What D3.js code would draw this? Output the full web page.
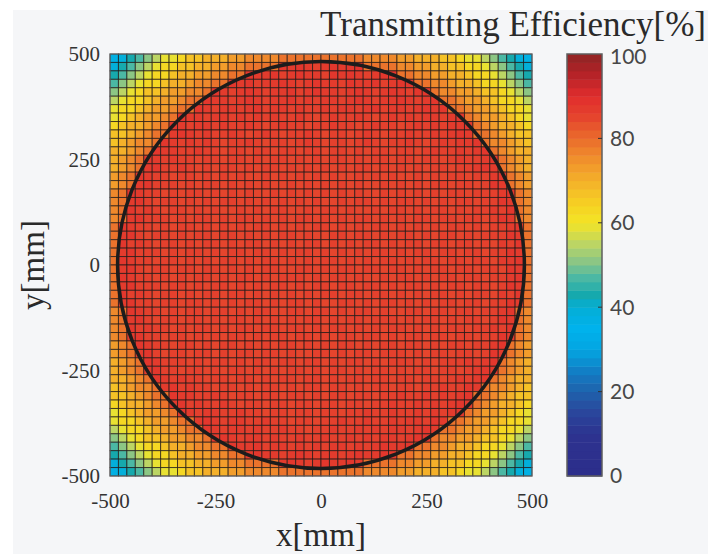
<!DOCTYPE html>
<html>
<head>
<meta charset="utf-8">
<script src="https://cdn.jsdelivr.net/npm/d3@7"></script>
<style>
  body { margin: 0; background: #fff; }
  svg { display: block; }
  .axis text { font-family: "Liberation Serif", "Times New Roman", serif; font-size: 21px; fill: #333; }
  .cbar-label { font-family: Lato, "Open Sans", sans-serif; font-size: 21px; fill: #474747; }
  .axis-title { font-family: "Liberation Serif", "Times New Roman", serif; fill: #2a2a2a; }
</style>
</head>
<body>
<svg id="chart" width="726" height="554"></svg>
<script>
// tick values
const xTicks = [-500, -250, 0, 250, 500];
const yTicks = [-500, -250, 0, 250, 500];
const cbarTicks = [0, 20, 40, 60, 80, 100];

// colour map
const cmapStops  = [0, 10, 15, 20, 25, 30, 35, 40, 43, 47, 51, 55, 60, 64, 70, 75, 80, 85, 90, 95, 100];
const cmapColors = ["#2c2d8a", "#2d3390", "#2a469c", "#1f62ac", "#117fc6", "#03a6e2", "#00b2ec", "#04aed6",
                    "#16a9ad", "#4bb8a4", "#8cc684", "#bcd564", "#f3e426", "#f6d322", "#f4b02a", "#f0902c",
                    "#ea6c2c", "#e5452d", "#e12d2d", "#b62328", "#8e2424"];

// aperture circle radius [mm]
const apertureRadius = 482;

// transmitting efficiency [%], rows from y=+490 (top) to y=-490, columns x=-490..490
const efficiency = [
  [37,39,43,47,51,55,59,59,63,67,67,70,70,70,73,73,76,76,76,76,79,79,79,79,79,79,79,79,79,79,76,76,76,76,73,73,70,70,70,67,67,63,59,59,55,51,47,43,39,37],
  [39,43,47,51,55,59,63,63,67,67,70,70,73,73,76,76,79,79,79,79, 88,87,88,87,86,87,88,87,88,89, 79,79,79,79,76,76,73,73,70,70,67,67,63,63,59,55,51,47,43,39],
  [43,47,51,55,59,63,63,67,70,70,73,73,76,76,79,79, 88,87,87,88,86,87,88,87,87,86, 88,87,88,87,86,87,88,88, 79,79,76,76,73,73,70,70,67,63,63,59,55,51,47,43],
  [47,51,55,59,63,63,67,70,70,73,76,76,79,79, 88,87,88,86,87,87,88,87,86,87, 88,87,87,86,88,87,87,88,86,87, 88,88, 79,79,76,76,73,70,70,67,63,63,59,55,51,47],
  [51,55,59,63,67,67,70,73,73,76,76,79, 88,87,86,87,88,87,86,87,87,88, 86,87,88,87,87,86,87,88,87,86, 87,88,87,86,88,88, 79,76,76,73,73,70,67,67,63,59,55,51],
  [55,59,63,63,67,70,73,73,76,79,79, 88,87,87,86,87,88,87,86,87,87, 88,86,87,86,87,87,86,87,88,87, 86,87,87,88,87,86,87,88, 79,79,76,73,73,70,67,63,63,59,55],
  [59,63,63,67,70,73,73,76,79,79, 88,87,86,87,87,86,87,88,86,87, 87,86,87,86,86,87,86,87,87,86, 87,88,86,87,87,86,87,88,87,88, 79,79,76,73,73,70,67,63,63,59],
  [59,63,67,70,73,73,76,79, 88,87,87,86,87,87,86,87,86,87, 86,87,86,86,87,86,85,86,87,86, 86,87,86,85,86,87,86,87,86,87, 87,86,87,88, 79,76,73,73,70,67,63,59],
  [63,67,70,70,73,76,79, 88,87,86,87,87,86,87,86,86,87, 86,85,86,87,86,86,85,86,86,87, 86,86,85,86,87,86,86,85,86,87, 86,87,86,87,87,88, 79,76,73,70,70,67,63],
  [67,67,70,73,76,79,79, 87,88,87,86,87,86,86,87,86,85, 86,87,86,85,86,86,87,86,85,86, 86,85,86,87,86,85,86,86,87,86, 86,87,86,87,88,87, 79,79,76,73,70,67,67],
  [67,70,73,76,76,79, 88,87,86,87,86,87,86,85,86,86, 87,86,85,86,86,85,86,87,86,85, 86,86,85,86,87,86,85,86,86,87, 86,85,86,87,86,87,87,88, 79,76,76,73,70,67],
  [70,70,73,76,79, 88,87,87,86,86,87,86,86,85,86, 86,85,86,86,85,86,86,85,86,86, 85,86,86,85,86,85,86,86,85,86, 86,85,86,87,86,86,87,86,87,88, 79,76,73,70,70],
  [70,73,76,79, 88,87,86,87,86,86,85,86,86,85, 86,86,85,86,85,86,86,85,86,85, 86,85,86,86,85,86,85,86,86,85, 86,86,85,86,86,85,86,87,86,86, 87,88, 79,76,73,70],
  [70,73,76,79, 87,88,86,86,87,86,85,86,85,86, 86,85,86,85,86,86,85,86,85,86, 85,86,85,86,85,86,86,85,86,85, 86,85,86,85,86,86,85,86,86,87, 88,87, 79,76,73,70],
  [73,76,79, 88,87,86,86,85,86,86,85,86,85, 86,85,86,85,85,86,85,86,85,86, 85,86,85,86,85,85,86,85,86,85, 86,85,85,86,85,86,85,86,86,85, 86,86,87,88, 79,76,73],
  [73,76,79, 87,88,86,86,86,85,86,85,86,86, 85,86,85,86,85,86,85,85,86,85, 86,85,86,85,86,85,86,85,85,86, 85,86,85,86,85,86,86,85,86,86, 85,86,88,87, 79,76,73],
  [76,79, 88,87,86,86,85,86,85,86,86,85, 86,85,86,85,86,85,85,86,85,86, 85,86,85,86,85,86,85,86,85,85, 86,85,86,85,86,85,86,85,86,86, 85,86,86,86,87,88, 79,76],
  [76,79, 87,88,86,85,86,86,85,86,85,86, 85,86,86,85,86,85,86,85,86,85, 86,85,86,85,85,86,85,86,86,85, 86,85,86,86,85,86,85,86,85,86, 86,85,86,86,88,87, 79,76],
  [76,79, 88,86,87,86,85,86,86,85,86,85, 86,85,85,86,85,86,85,86,86,85, 85,86,85,86,86,85,86,85,85,86, 85,86,86,85,86,85,86,86,85,86, 85,86,86,87,86,88, 79,76],
  [76,79, 87,88,86,86,86,85,86,85,86,86, 85,86,85,86,86,85,86,85,86,85, 86,86,85,86,85,86,85,86,86,85, 86,85,86,85,86,86,85,86,86,85, 86,86,85,86,88,87, 79,76],
  [79, 88,87,86,86,85,86,85,86,86,85, 86,85,86,85,86,85,86,86,85,86, 85,86,85,86,86,85,86,85,86,85, 86,86,85,86,85,86,85,86,85,86, 86,85,86,85,86,86,87,88, 79],
  [79, 87,88,86,85,86,86,85,86,85,86, 86,85,86,86,85,86,85,86,85,86, 86,85,86,85,85,86,86,85,86,86, 85,86,85,86,86,85,86,85,86,86, 85,86,85,86,86,86,88,87, 79],
  [79, 88,86,87,86,85,86,86,85,86,85, 86,86,85,86,85,86,86,85,86,85, 86,85,86,86,85,86,85,86,85,86, 86,85,86,85,86,86,85,86,86,85, 86,86,85,86,85,87,86,88, 79],
  [79, 87,88,86,86,86,85,86,85,86,86, 85,86,85,86,86,85,86,86,85,86, 85,86,86,85,86,85,86,85,86,85, 86,86,85,86,85,86,86,85,86,86, 85,86,86,85,86,86,88,87, 79],
  [79, 88,87,86,86,85,86,86,85,86,85, 86,85,86,86,85,86,85,86,86,85, 86,85,86,85,86,86,85,86,85,86, 85,86,86,85,86,85,86,86,85,86, 86,85,86,86,85,87,87,88, 79],
  [79, 87,88,86,85,86,86,85,86,86,85, 86,86,85,86,85,86,85,86,86,85, 85,86,86,85,86,85,86,86,85,86, 86,85,86,86,85,86,85,86,86,85, 86,86,85,86,86,85,88,87, 79],
  [79, 88,87,86,86,85,86,85,86,85,86, 86,85,86,85,86,86,85,86,85,86, 86,86,85,86,85,86,86,85,86,85, 85,86,85,86,86,85,86,85,86,86, 85,86,86,85,86,86,87,88, 79],
  [79, 87,88,86,86,86,85,86,86,85,86, 85,86,86,85,86,85,86,85,86,86, 85,86,85,86,86,85,86,86,85,86, 86,85,86,85,86,86,85,86,85,86, 86,85,86,86,85,86,88,87, 79],
  [79, 88,86,87,86,85,86,86,85,86,85, 86,86,85,86,86,85,86,85,86,85, 86,85,86,85,86,86,85,86,86,85, 86,86,85,86,85,86,85,86,86,85, 86,85,86,86,85,87,86,88, 79],
  [79, 87,88,86,86,85,86,86,85,86,86, 85,86,85,86,85,86,86,85,86,85, 86,86,85,86,85,85,86,86,85,86, 85,86,86,85,86,85,86,85,86,86, 85,86,86,85,86,86,88,87, 79],
  [76,79, 88,87,86,86,85,86,85,86,86,85, 86,86,85,86,85,86,86,85,85,86, 86,85,86,86,85,86,85,86,86,85, 86,85,85,86,86,85,86,86,85,86, 86,85,86,86,87,88, 79,76],
  [76,79, 87,88,86,85,86,86,85,86,86,85, 86,85,86,86,85,86,85,86,85,86, 85,86,86,85,86,85,86,86,85,86, 86,86,85,86,85,86,86,85,86,85, 86,86,85,86,88,87, 79,76],
  [76,79, 88,86,87,86,86,85,86,85,86,86, 85,86,85,86,86,85,86,86,85,86, 86,85,86,85,86,86,85,86,85,86, 85,86,86,85,86,85,86,85,86,86, 85,86,86,87,86,88, 79,76],
  [76,79, 87,88,86,86,85,86,86,85,86,85, 86,85,86,86,85,86,85,86,86,85, 86,86,85,86,85,86,86,85,86,86, 85,86,85,86,86,85,86,86,85,86, 86,85,86,86,88,87, 79,76],
  [73,76,79, 88,87,86,86,85,86,86,85,86,85, 86,86,85,86,85,86,85,86,86,85, 86,85,86,85,86,86,85,86,85,86, 86,85,86,86,85,86,85,86,86,85, 86,86,87,88, 79,76,73],
  [73,76,79, 87,88,86,85,86,86,85,86,86,85, 86,85,86,86,85,86,86,85,86,85, 85,86,86,85,86,85,86,86,85,86, 86,86,85,86,85,86,86,85,86,86, 85,86,88,87, 79,76,73],
  [70,73,76,79, 88,87,86,86,86,85,86,85,86,86, 85,86,85,86,86,85,86,86,85,86, 86,85,86,85,86,86,85,86,85,86, 86,86,85,86,85,86,86,86,87,86, 87,88, 79,76,73,70],
  [70,73,76,79, 87,88,86,86,85,86,86,85,86,85, 86,86,85,86,85,86,85,86,86,85, 86,85,86,86,85,86,85,86,86,85, 86,85,86,86,85,86,86,85,86,87, 88,87, 79,76,73,70],
  [70,70,73,76,79, 88,87,86,87,86,86,85,86,86,85, 86,86,85,86,85,86,86,85,86,86, 85,86,85,86,86,85,86,86,85,86, 86,85,86,86,85,86,87,86,87,88, 79,76,73,70,70],
  [67,70,73,76,76,79, 87,88,86,87,86,86,85,86,86,85, 86,85,86,86,85,86,85,86,86,85, 86,86,85,86,85,86,86,85,86,86, 85,86,86,87,86,86,88,87, 79,76,76,73,70,67],
  [67,67,70,73,76,79,79, 88,87,87,86,86,87,86,85,86,86, 85,86,86,85,86,86,85,86,85,86, 86,85,86,86,85,86,86,87,86,86, 87,86,87,86,87,88, 79,79,76,73,70,67,67],
  [63,67,70,70,73,76,79, 87,88,86,87,86,86,87,86,85,86, 86,85,86,86,85,86,86,85,86,86, 85,86,86,85,86,86,87,86,86,87, 86,87,86,87,88,87, 79,76,73,70,70,67,63],
  [59,63,67,70,73,73,76,79, 88,87,86,87,87,86,86,87,86,86, 85,86,86,85,86,86,85,86,86,85, 86,86,87,86,86,87,86,86,87,86, 87,86,87,88, 79,76,73,73,70,67,63,59],
  [59,63,63,67,70,73,73,76,79,79, 87,88,87,86,87,87,86,86,87,86, 86,85,86,86,85,86,86,87,86,86, 87,86,86,87,86,87,87,86,88,87, 79,79,76,73,73,70,67,63,63,59],
  [55,59,63,63,67,70,73,73,76,79,79, 88,87,86,87,87,86,87,86,86,87, 86,86,85,86,86,87,86,86,87,86, 87,86,87,87,86,87,88,87, 79,79,76,73,73,70,67,63,63,59,55],
  [51,55,59,63,67,67,70,73,73,76,76,79, 87,88,87,86,87,87,86,87,86,86, 87,86,86,87,86,86,87,86,87,86, 87,87,86,87,88,88, 79,76,76,73,73,70,67,67,63,59,55,51],
  [47,51,55,59,63,63,67,70,70,73,76,76,79,79, 88,87,87,88,86,87,87,86,87,86, 87,86,87,87,86,87,86,87,88,87, 87,88, 79,79,76,76,73,70,70,67,63,63,59,55,51,47],
  [43,47,51,55,59,63,63,67,70,70,73,73,76,76,79,79, 87,88,87,87,86,87,88,87,86,87, 87,86,87,88,87,87,88,87, 79,79,76,76,73,73,70,70,67,63,63,59,55,51,47,43],
  [39,43,47,51,55,59,63,63,67,67,70,70,73,73,76,76,79,79,79,79, 87,88,87,86,87,88,87,87,88,87, 79,79,79,79,76,76,73,73,70,70,67,67,63,63,59,55,51,47,43,39],
  [37,39,43,47,51,55,59,59,63,67,67,70,70,70,73,73,76,76,76,76,79,79,79,79,79,79,79,79,79,79,76,76,76,76,73,73,70,70,70,67,67,63,59,59,55,51,47,43,39,37]
];

const svg = d3.select("#chart");

// figure background
svg.append("rect")
  .attr("x", 13).attr("y", 10)
  .attr("width", 695).attr("height", 544)
  .attr("fill", "#f5f6f8");

const plot = {left: 110, right: 532, top: 54, bottom: 476};

const xScale = d3.scaleLinear().domain([-500, 500]).range([plot.left, plot.right]);
const yScale = d3.scaleLinear().domain([-500, 500]).range([plot.bottom, plot.top]);

const nRows = efficiency.length;
const nCols = efficiency[0].length;
const colBand = d3.scaleBand().domain(d3.range(nCols)).range([plot.left, plot.right]);
const rowBand = d3.scaleBand().domain(d3.range(nRows)).range([plot.top, plot.bottom]);

const color = d3.scaleLinear()
  .domain(cmapStops)
  .range(cmapColors)
  .interpolate(d3.interpolateRgb)
  .clamp(true);

// heat map cells
const cells = efficiency.flatMap((row, r) => row.map((v, c) => ({r: r, c: c, v: v})));

svg.append("g")
  .selectAll("rect")
  .data(cells)
  .join("rect")
    .attr("x", d => colBand(d.c))
    .attr("y", d => rowBand(d.r))
    .attr("width", colBand.bandwidth())
    .attr("height", rowBand.bandwidth())
    .attr("fill", d => color(d.v))
    .attr("stroke", "#1e1816")
    .attr("stroke-opacity", 0.72)
    .attr("stroke-width", 1);

// aperture circle
svg.append("circle")
  .attr("cx", xScale(0))
  .attr("cy", yScale(0))
  .attr("r", xScale(apertureRadius) - xScale(0))
  .attr("fill", "none")
  .attr("stroke", "#1c1c1c")
  .attr("stroke-width", 3.5);

// frame
svg.append("rect")
  .attr("x", plot.left).attr("y", plot.top)
  .attr("width", plot.right - plot.left)
  .attr("height", plot.bottom - plot.top)
  .attr("fill", "none")
  .attr("stroke", "#666")
  .attr("stroke-width", 1);

// axes
const xAxis = d3.axisBottom(xScale)
  .tickValues(xTicks)
  .tickSize(0)
  .tickPadding(17)
  .tickFormat(d => String(d));
const yAxis = d3.axisLeft(yScale)
  .tickValues(yTicks)
  .tickSize(0)
  .tickPadding(10)
  .tickFormat(d => String(d));

const gX = svg.append("g")
  .attr("class", "x axis")
  .attr("transform", "translate(0," + plot.bottom + ")")
  .call(xAxis);
const gY = svg.append("g")
  .attr("class", "y axis")
  .attr("transform", "translate(" + plot.left + ",0)")
  .call(yAxis);
gX.selectAll(".domain").remove();
gY.selectAll(".domain").remove();
svg.selectAll(".axis text").attr("font-family", null).attr("font-size", null);

svg.append("text")
  .attr("class", "axis-title")
  .attr("x", xScale(0))
  .attr("y", 546)
  .attr("text-anchor", "middle")
  .style("font-size", "33px")
  .text("x[mm]");

svg.append("text")
  .attr("class", "axis-title")
  .attr("transform", "translate(44," + yScale(0) + ") rotate(-90)")
  .attr("text-anchor", "middle")
  .style("font-size", "33px")
  .text("y[mm]");

// colour bar
const cbar = {x: 567, width: 35};
const cScale = d3.scaleLinear().domain([0, 100]).range([plot.bottom, plot.top]);
const nBands = 50;
const bandStep = 100 / nBands;

svg.append("g")
  .selectAll("rect")
  .data(d3.range(nBands))
  .join("rect")
    .attr("x", cbar.x)
    .attr("y", k => cScale((k + 1) * bandStep))
    .attr("width", cbar.width)
    .attr("height", k => cScale(k * bandStep) - cScale((k + 1) * bandStep) + 0.5)
    .attr("fill", k => color((k + 0.5) * bandStep));

svg.append("rect")
  .attr("x", cbar.x).attr("y", cScale(100))
  .attr("width", cbar.width)
  .attr("height", cScale(0) - cScale(100))
  .attr("fill", "none")
  .attr("stroke", "#5e5e5e")
  .attr("stroke-width", 1.5);

svg.append("g")
  .selectAll("line")
  .data(cbarTicks.filter(d => d > 0 && d < 100))
  .join("line")
    .attr("x1", cbar.x + cbar.width - 4)
    .attr("x2", cbar.x + cbar.width)
    .attr("y1", d => cScale(d))
    .attr("y2", d => cScale(d))
    .attr("stroke", "#333")
    .attr("stroke-width", 1);

svg.append("g")
  .selectAll("text")
  .data(cbarTicks)
  .join("text")
    .attr("class", "cbar-label")
    .attr("x", cbar.x + cbar.width + 8)
    .attr("y", d => d === 100 ? cScale(d) + 3 : cScale(d))
    .attr("dy", "0.35em")
    .text(d => d);

svg.append("text")
  .attr("class", "axis-title")
  .attr("x", 706)
  .attr("y", 36)
  .attr("text-anchor", "end")
  .style("font-size", "35px")
  .text("Transmitting Efficiency[%]");
</script>
</body>
</html>
